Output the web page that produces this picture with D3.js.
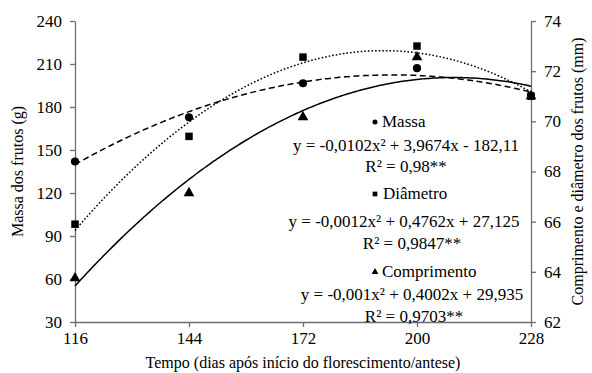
<!DOCTYPE html>
<html>
<head>
<meta charset="utf-8">
<script src="https://cdn.jsdelivr.net/npm/d3@7"></script>
<style>
  html, body { margin: 0; padding: 0; background: #fff; }
</style>
</head>
<body>
<svg id="chart" width="592" height="373"></svg>
<script>
// Days after start of flowering / anthesis
const dias = [116, 144, 172, 200, 228];
// Fruit mass (g), left axis
const massa = [142, 172.8, 196.6, 207.1, 188];
// Fruit diameter (mm), right axis
const diametro = [65.9, 69.4, 72.56, 73.0, 71.0];
// Fruit length (mm), right axis
const comprimento = [63.75, 67.14, 70.17, 72.56, 71.0];

const xTicks = [116, 144, 172, 200, 228];
const leftTicks = [30, 60, 90, 120, 150, 180, 210, 240];
const rightTicks = [62, 64, 66, 68, 70, 72, 74];

const nomes = ["Massa", "Di\u00E2metro", "Comprimento"];
const equacoes = [
  "y = -0,0102x\u00B2 + 3,9674x - 182,11",
  "y = -0,0012x\u00B2 + 0,4762x + 27,125",
  "y = -0,001x\u00B2 + 0,4002x + 29,935"
];
const r2 = ["R\u00B2 = 0,98**", "R\u00B2 = 0,9847**", "R\u00B2 = 0,9703**"];

const FONT = "Liberation Serif";
const FS = 17;

const svg = d3.select("#chart");
const plot = { left: 75, right: 531, top: 21, bottom: 322 };

const x = d3.scaleLinear().domain([116, 228]).range([plot.left, plot.right]);
const yL = d3.scaleLinear().domain([30, 240]).range([plot.bottom, plot.top]);
const yR = d3.scaleLinear().domain([62, 74]).range([plot.bottom, plot.top]);

const axisColor = "#6e6e6e";
function styleAxis(g) {
  g.attr("font-family", null).attr("font-size", null);
  g.selectAll("path.domain").attr("stroke", axisColor).attr("stroke-width", 1.3);
  g.selectAll(".tick line").attr("stroke", axisColor).attr("stroke-width", 1.3);
  g.selectAll(".tick text").attr("font-family", FONT).attr("font-size", FS).attr("fill", "#000");
}

svg.append("g")
  .attr("transform", `translate(0,${plot.bottom})`)
  .call(d3.axisBottom(x).tickValues(xTicks).tickSize(5).tickSizeOuter(0).tickPadding(5).tickFormat(d3.format("d")))
  .call(styleAxis);

svg.append("g")
  .attr("transform", `translate(${plot.left},0)`)
  .call(d3.axisLeft(yL).tickValues(leftTicks).tickSize(5).tickSizeOuter(0).tickPadding(8).tickFormat(d3.format("d")))
  .call(styleAxis);

svg.append("g")
  .attr("transform", `translate(${plot.right},0)`)
  .call(d3.axisRight(yR).tickValues(rightTicks).tickSize(5).tickSizeOuter(0).tickPadding(8).tickFormat(d3.format("d")))
  .call(styleAxis);

// Least-squares quadratic trend line for a series
function quadFit(xs, ys) {
  const s = Array(5).fill(0), t = Array(3).fill(0);
  xs.forEach((xv, i) => {
    for (let k = 0; k < 5; k++) s[k] += Math.pow(xv, k);
    for (let k = 0; k < 3; k++) t[k] += Math.pow(xv, k) * ys[i];
  });
  const A = [[s[0], s[1], s[2], t[0]], [s[1], s[2], s[3], t[1]], [s[2], s[3], s[4], t[2]]];
  for (let i = 0; i < 3; i++) {
    let p = i;
    for (let r = i + 1; r < 3; r++) if (Math.abs(A[r][i]) > Math.abs(A[p][i])) p = r;
    [A[i], A[p]] = [A[p], A[i]];
    for (let r = 0; r < 3; r++) {
      if (r === i) continue;
      const f = A[r][i] / A[i][i];
      for (let c = i; c < 4; c++) A[r][c] -= f * A[i][c];
    }
  }
  const c = A.map((row, i) => row[3] / row[i]);
  return xv => c[0] + c[1] * xv + c[2] * xv * xv;
}

const series = [
  { values: massa, y: yL, dash: "6,3.5", marker: d3.symbolCircle, size: 52, key: 20 },
  { values: diametro, y: yR, dash: "1.6,2", marker: d3.symbolSquare, size: 56, key: 22 },
  { values: comprimento, y: yR, dash: null, marker: d3.symbolTriangle, size: 50, key: 20 }
];

const xs = d3.range(116, 228.01, 0.5);
series.forEach(s => {
  const f = quadFit(dias, s.values);
  const line = d3.line().x(d => x(d)).y(d => s.y(f(d)));
  svg.append("path")
    .attr("d", line(xs))
    .attr("fill", "none")
    .attr("stroke", "#000")
    .attr("stroke-width", 1.5)
    .attr("stroke-dasharray", s.dash);
});

series.forEach(s => {
  svg.append("g").selectAll("path")
    .data(dias.map((d, i) => [d, s.values[i]]))
    .join("path")
    .attr("d", d3.symbol().type(s.marker).size(s.size))
    .attr("transform", d => `translate(${x(d[0])},${s.y(d[1])})`)
    .attr("fill", "#000");
});

// Trend-line labels: key marker, series name, equation and R²
const labelPos = [
  { kx: 375, ky: 122, nx: 382, yName: 127, cEq: 406, cR2: 406, yEq: 151, yR2: 172 },
  { kx: 375, ky: 194, nx: 383, yName: 199, cEq: 404, cR2: 412, yEq: 227, yR2: 249 },
  { kx: 375, ky: 272, nx: 382, yName: 277, cEq: 412, cR2: 414, yEq: 300, yR2: 322 }
];
function label(xp, yp, txt, anchor, size) {
  return svg.append("text").attr("x", xp).attr("y", yp)
    .attr("text-anchor", anchor || "middle")
    .attr("font-family", FONT).attr("font-size", size || FS)
    .text(txt);
}
series.forEach((s, i) => {
  const p = labelPos[i];
  svg.append("path")
    .attr("d", d3.symbol().type(s.marker).size(s.key))
    .attr("transform", `translate(${p.kx},${p.ky})`)
    .attr("fill", "#000");
  label(p.nx, p.yName, nomes[i], "start");
  label(p.cEq, p.yEq, equacoes[i]);
  label(p.cR2, p.yR2, r2[i]);
});

// Axis titles
label((plot.left + plot.right) / 2, 368, "Tempo (dias ap\u00F3s in\u00EDcio do florescimento/antese)", "middle", 16);

label(0, 0, "Massa dos frutos (g)", "middle", 16)
  .attr("transform", `translate(23,${(plot.top + plot.bottom) / 2}) rotate(-90)`);

label(0, 0, "Comprimento e di\u00E2metro dos frutos (mm)", "middle", 16)
  .attr("transform", `translate(583,${(plot.top + plot.bottom) / 2}) rotate(-90)`);
</script>
</body>
</html>
